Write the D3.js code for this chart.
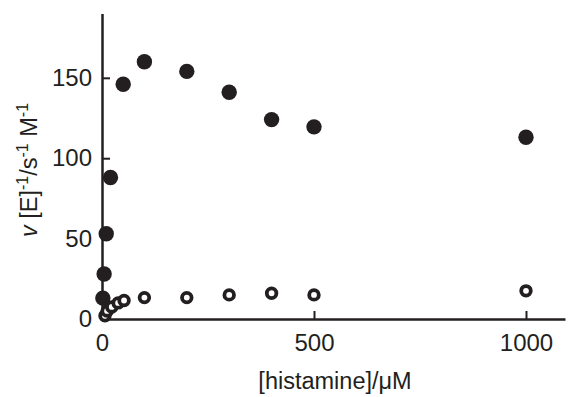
<!DOCTYPE html>
<html>
<head>
<meta charset="utf-8">
<script src="https://cdn.jsdelivr.net/npm/d3@7"></script>
<style>
  body { margin: 0; background: #fff; }
  svg { display: block; font-family: "Liberation Sans", Arial, sans-serif; }
</style>
</head>
<body>
<svg id="chart" width="568" height="397"></svg>
<script>
// filled circles
const filledX = [2, 5, 10, 20, 50, 100, 200, 300, 400, 500, 1000];
const filledY = [13, 28, 53, 88, 146, 160, 154, 141, 124, 119.5, 113];
// open circles
const openX = [7, 12, 23, 38, 52, 100, 200, 300, 400, 500, 1000];
const openY = [2, 5, 7.5, 10, 11.5, 13.3, 13.3, 15, 16, 15, 17.5];
const xTicks = [0, 500, 1000];
const yTicks = [0, 50, 100, 150];

const ink = '#231f20';
const svg = d3.select('#chart');

const x = d3.scaleLinear().domain([0, 1092]).range([102, 565]);
const y = d3.scaleLinear().domain([0, 190]).range([319, 13.5]);

const xAxis = svg.append('g')
  .attr('transform', `translate(0,${y(0)})`)
  .call(d3.axisBottom(x).tickValues(xTicks).tickFormat(d3.format('d'))
    .tickSizeInner(-8).tickSizeOuter(0).tickPadding(15));
const yAxis = svg.append('g')
  .attr('transform', `translate(${x(0)},0)`)
  .call(d3.axisLeft(y).tickValues(yTicks).tickFormat(d3.format('d'))
    .tickSizeInner(-8).tickSizeOuter(0).tickPadding(10));

[xAxis, yAxis].forEach(g => {
  g.select('.domain').attr('stroke', ink).attr('stroke-width', 2.5);
  g.selectAll('.tick line').attr('stroke', ink).attr('stroke-width', 2);
  g.selectAll('.tick text').attr('fill', ink).style('font-size', '24px')
    .style('font-family', '"Liberation Sans", Arial, sans-serif');
});
yAxis.selectAll('.tick').filter(d => d === 0).select('line').remove();
xAxis.selectAll('.tick').filter(d => d === 0).select('line').remove();

// points
const filled = filledX.map((v, i) => ({ x: v, y: filledY[i] }));
const open = openX.map((v, i) => ({ x: v, y: openY[i] }));

svg.append('g').selectAll('circle')
  .data(filled)
  .enter().append('circle')
  .attr('cx', d => x(d.x))
  .attr('cy', d => y(d.y))
  .attr('r', 7.7)
  .attr('fill', ink);

svg.append('g').selectAll('circle')
  .data(open)
  .enter().append('circle')
  .attr('cx', d => x(d.x))
  .attr('cy', d => y(d.y))
  .attr('r', 4.8)
  .attr('fill', '#fff')
  .attr('stroke', ink)
  .attr('stroke-width', 3.8);

// axis titles
svg.append('text')
  .attr('x', 335)
  .attr('y', 389)
  .attr('text-anchor', 'middle')
  .attr('fill', ink)
  .style('font-size', '23.5px')
  .text('[histamine]/\u03bcM');

const yl = svg.append('text')
  .attr('transform', 'translate(37,170) rotate(-90)')
  .attr('text-anchor', 'middle')
  .attr('fill', ink)
  .style('font-size', '23.5px');
yl.append('tspan').style('font-style', 'italic').text('v');
yl.append('tspan').text(' [E]');
yl.append('tspan').attr('dy', -9).style('font-size', '16px').text('-1');
yl.append('tspan').attr('dy', 9).text('/s');
yl.append('tspan').attr('dy', -9).style('font-size', '16px').text('-1');
yl.append('tspan').attr('dy', 9).text(' M');
yl.append('tspan').attr('dy', -9).style('font-size', '16px').text('-1');
</script>
</body>
</html>
